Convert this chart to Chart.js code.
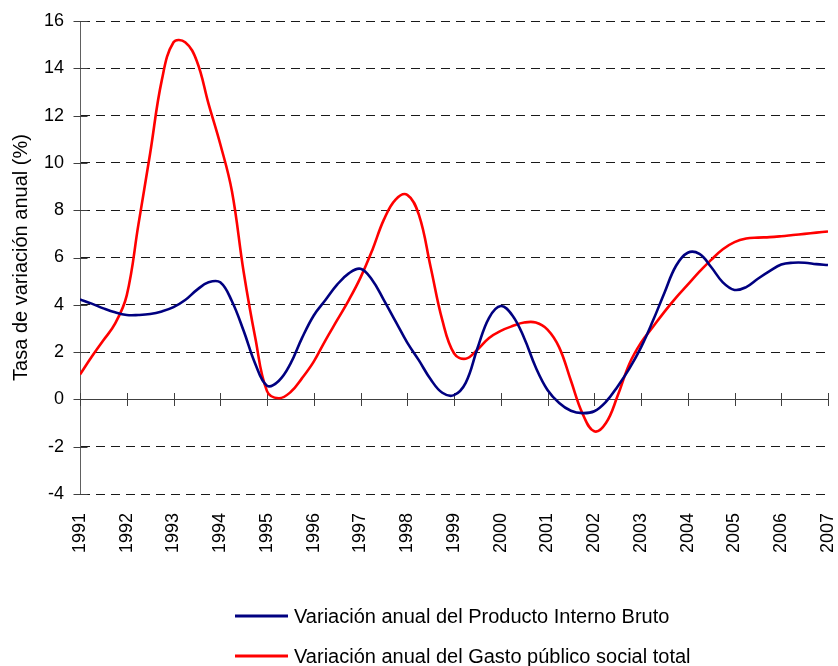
<!DOCTYPE html>
<html lang="es">
<head>
<meta charset="utf-8">
<title>Tasa de variación anual</title>
<script src="https://cdn.jsdelivr.net/npm/chart.js@4.4.1/dist/chart.umd.min.js"></script>
<style>
  html, body { margin: 0; padding: 0; background: #ffffff; }
  #wrap { position: relative; width: 838px; height: 666px; }
</style>
</head>
<body>
<div id="wrap"><canvas id="chart" width="838" height="666"></canvas></div>
<script>
// Years on the axis; each year holds four quarterly readings
const years = [1991, 1992, 1993, 1994, 1995, 1996, 1997, 1998, 1999,
               2000, 2001, 2002, 2003, 2004, 2005, 2006, 2007];

// Variación anual del Producto Interno Bruto (%), quarterly
const pib = [
  4.23, 4.05, 3.85, 3.68,   // 1991
  3.57, 3.57, 3.61, 3.72,   // 1992
  3.90, 4.20, 4.63, 4.95,   // 1993
  4.95, 4.15, 2.90, 1.50,   // 1994
  0.58, 0.78, 1.50, 2.60,   // 1995
  3.55, 4.20, 4.85, 5.33,   // 1996
  5.52, 5.05, 4.20, 3.30,   // 1997
  2.40, 1.65, 0.85, 0.28,   // 1998
  0.18, 0.70, 2.15, 3.45,   // 1999
  3.95, 3.55, 2.60, 1.35,   // 2000
  0.40, -0.15, -0.48, -0.58, // 2001
  -0.50, -0.10, 0.55, 1.30, // 2002
  2.20, 3.30, 4.50, 5.65,   // 2003
  6.20, 6.15, 5.60, 4.95,   // 2004
  4.63, 4.75, 5.10, 5.42,   // 2005
  5.70, 5.78, 5.78, 5.72,   // 2006
  5.68                      // 2007
];

// Variación anual del Gasto público social total (%), quarterly
const gasto = [
  1.05, 1.80, 2.50, 3.20,   // 1991
  4.40, 7.40, 10.40, 13.50, // 1992
  15.10, 15.10, 14.30, 12.50, // 1993
  10.80, 8.80, 5.40, 2.60,  // 1994
  0.35, 0.05, 0.30, 0.90,   // 1995
  1.60, 2.50, 3.35, 4.20,   // 1996
  5.15, 6.30, 7.60, 8.45,   // 1997
  8.65, 7.80, 5.60, 3.35,   // 1998
  1.95, 1.72, 2.10, 2.60,   // 1999
  2.90, 3.10, 3.25, 3.25,   // 2000
  2.95, 2.20, 0.80, -0.60,  // 2001
  -1.35, -1.00, 0.15, 1.50, // 2002
  2.40, 3.05, 3.70, 4.30,   // 2003
  4.85, 5.40, 5.90, 6.35,   // 2004
  6.65, 6.80, 6.84, 6.86,   // 2005
  6.90, 6.95, 7.00, 7.05,   // 2006
  7.10                      // 2007
];

const seriesLabels = [
  'Variación anual del Producto Interno Bruto',
  'Variación anual del Gasto público social total'
];
const seriesColors = ['#000080', '#ff0000'];

const yTicks = [-4, -2, 0, 2, 4, 6, 8, 10, 12, 14, 16];
const yTitle = 'Tasa de variación anual (%)';

const FONT = '"Liberation Sans", Arial, Helvetica, sans-serif';

// x position of every reading: year + quarter offset
function toPoints(values) {
  const pts = [];
  values.forEach((v, i) => {
    const year = years[Math.floor(i / 4)];
    pts.push({ x: year + (i % 4) * 0.25, y: v });
  });
  return pts;
}

// Excel-style axis: zero line with crossing tick marks, crossing y ticks
const crossAxes = {
  id: 'crossAxes',
  beforeDatasetsDraw(chart) {
    const { ctx, chartArea } = chart;
    const xs = chart.scales.x;
    const ys = chart.scales.y;
    const y0 = Math.round(ys.getPixelForValue(0)) + 0.5;
    ctx.save();
    ctx.lineWidth = 1;
    ctx.strokeStyle = '#404040';
    ctx.beginPath();
    ctx.moveTo(chartArea.left, y0);
    ctx.lineTo(chartArea.right, y0);
    xs.ticks.forEach(t => {
      const px = Math.round(xs.getPixelForValue(t.value)) + 0.5;
      ctx.moveTo(px, y0 - 6.5);
      ctx.lineTo(px, y0 + 6.5);
    });
    const ax = Math.round(chartArea.left) + 0.5;
    ys.ticks.forEach(t => {
      const py = Math.round(ys.getPixelForValue(t.value)) + 0.5;
      ctx.moveTo(ax - 7, py);
      ctx.lineTo(ax + 7, py);
    });
    ctx.stroke();
    ctx.restore();
  }
};

// Two-row legend, left-aligned, under the axis labels
const stackedLegend = {
  id: 'stackedLegend',
  afterDraw(chart) {
    const ctx = chart.ctx;
    ctx.save();
    ctx.font = '20px ' + FONT;
    ctx.textBaseline = 'middle';
    ctx.textAlign = 'left';
    chart.data.datasets.forEach((ds, i) => {
      const y = 616 + i * 40;
      ctx.strokeStyle = ds.borderColor;
      ctx.lineWidth = 3;
      ctx.beginPath();
      ctx.moveTo(235, y);
      ctx.lineTo(288, y);
      ctx.stroke();
      ctx.fillStyle = '#000000';
      ctx.fillText(ds.label, 294, y + 1);
    });
    ctx.restore();
  }
};

new Chart(document.getElementById('chart'), {
  type: 'line',
  data: {
    datasets: [
      {
        label: seriesLabels[0],
        data: toPoints(pib),
        borderColor: seriesColors[0],
        backgroundColor: seriesColors[0],
        borderWidth: 2.6,
        pointRadius: 0,
        tension: 0.4,
        fill: false
      },
      {
        label: seriesLabels[1],
        data: toPoints(gasto),
        borderColor: seriesColors[1],
        backgroundColor: seriesColors[1],
        borderWidth: 2.6,
        pointRadius: 0,
        tension: 0.4,
        fill: false
      }
    ]
  },
  options: {
    responsive: false,
    animation: false,
    layout: { padding: { top: 21, right: 10, bottom: 0, left: 0 } },
    plugins: {
      legend: { display: false },
      tooltip: { enabled: false }
    },
    scales: {
      x: {
        type: 'linear',
        min: years[0],
        max: years[years.length - 1],
        grid: { display: false, drawTicks: false },
        border: { display: false },
        ticks: {
          stepSize: 1,
          autoSkip: false,
          minRotation: 90,
          maxRotation: 90,
          padding: 19,
          color: '#000000',
          font: { family: FONT, size: 18 },
          callback: v => String(v)
        },
        afterFit: s => {
          s.height = 172;
          s.paddingLeft = 0;
          s.paddingRight = 0;
        }
      },
      y: {
        min: yTicks[0],
        max: yTicks[yTicks.length - 1],
        afterBuildTicks: s => { s.ticks = yTicks.map(v => ({ value: v })); },
        grid: { color: '#1a1a1a', lineWidth: 1, drawTicks: false },
        border: { display: true, color: '#606060', width: 1, dash: [9, 6] },
        ticks: {
          padding: 16,
          color: '#000000',
          font: { family: FONT, size: 18 }
        },
        title: {
          display: true,
          text: yTitle,
          color: '#000000',
          font: { family: FONT, size: 20 },
          padding: { top: 9, bottom: 0 }
        },
        afterFit: s => {
          s.width = 80;
          s.paddingTop = 0;
          s.paddingBottom = 0;
        }
      }
    }
  },
  plugins: [crossAxes, stackedLegend]
});
</script>
</body>
</html>
